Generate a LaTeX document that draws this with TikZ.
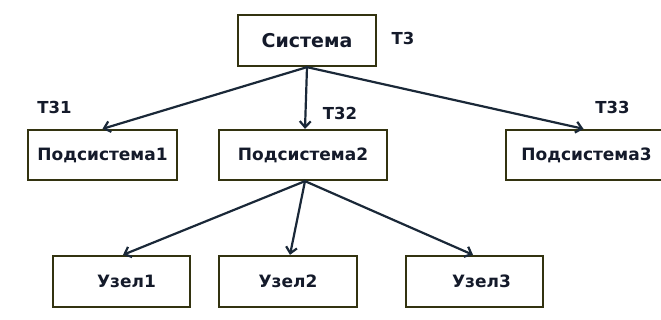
\documentclass[tikz,border=0pt]{standalone}
\usepackage{fontspec}
\setmainfont{DejaVu Sans}
\usetikzlibrary{arrows.meta}
\definecolor{boxline}{HTML}{333310}
\definecolor{arrowc}{HTML}{1A2838}
\definecolor{txt}{HTML}{141A2A}
\tikzset{
  box/.style={draw=boxline, line width=2.3pt, fill=white, inner sep=0pt, text=txt,
    font=\bfseries\fontsize{17}{19}\selectfont},
  lbl/.style={inner sep=0pt, text=txt, font=\bfseries\fontsize{16.5}{18}\selectfont},
  conn/.style={draw=arrowc, line width=2.2pt, -{Straight Barb[length=6pt,width=11pt,line width=2.2pt]}, shorten <=-1pt}
}
\begin{document}
\begin{tikzpicture}[x=1pt,y=-1pt]
\useasboundingbox (0,0) rectangle (661,320);
\fill[white] (0,0) rectangle (661,320);
\node[box, minimum width=138pt, minimum height=51pt, font=\bfseries\fontsize{19}{21}\selectfont] (sys) at (307,40.5) {Система};
\node[box, minimum width=149pt, minimum height=50pt] (p1) at (102.5,155) {Подсистема1};
\node[box, minimum width=168pt, minimum height=50pt] (p2) at (303,155) {Подсистема2};
\node[box, minimum width=161pt, minimum height=50pt] (p3) at (586.5,155) {Подсистема3};
\node[box, minimum width=137pt, minimum height=51pt] (u1) at (121.5,281.5) {\hspace{10pt}Узел1};
\node[box, minimum width=138pt, minimum height=51pt] (u2) at (288,281.5) {Узел2};
\node[box, minimum width=137pt, minimum height=51pt] (u3) at (474.5,281.5) {\hspace{14pt}Узел3};
\node[lbl] (t3) at (403,38.5) {Т3};
\node[lbl] (t31) at (54.5,107.5) {Т31};
\node[lbl] (t32) at (340,113.5) {Т32};
\node[lbl] (t33) at (612.5,107.5) {Т33};
\draw[conn] (sys.south) -- (p1.north);
\draw[conn] (sys.south) -- ([xshift=2pt]p2.north);
\draw[conn] (sys.south) -- ([xshift=-3pt]p3.north);
\draw[conn] ([xshift=2pt]p2.south) -- ([xshift=1.5pt]u1.north);
\draw[conn] ([xshift=2pt]p2.south) -- ([xshift=2pt]u2.north);
\draw[conn] ([xshift=2pt]p2.south) -- ([xshift=-1.5pt]u3.north);
\end{tikzpicture}
\end{document}
